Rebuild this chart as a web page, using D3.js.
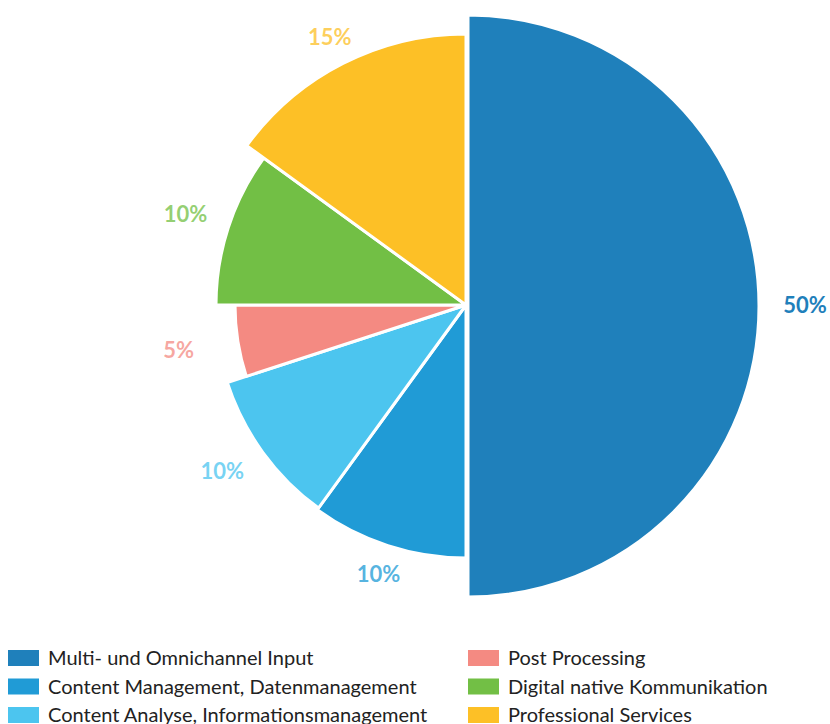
<!DOCTYPE html>
<html>
<head>
<meta charset="utf-8">
<script src="https://cdn.jsdelivr.net/npm/d3@7"></script>
<style>
  body { margin: 0; background: #fff; }
  svg { display: block; }
</style>
</head>
<body>
<div id="chart"></div>
<script>
// data
var categories = ["Multi- und Omnichannel Input", "Content Management, Datenmanagement",
  "Content Analyse, Informationsmanagement", "Post Processing",
  "Digital native Kommunikation", "Professional Services"];
var values = [50, 10, 10, 5, 10, 15];
var labels = ["50%", "10%", "10%", "5%", "10%", "15%"];
var colors = ["#1f80bb", "#209bd6", "#4cc5ef", "#f48a82", "#72bf45", "#fdc026"];

// layout per slice (not data)
var outerR = [291, 253, 251, 231, 250, 271];
var labelR = [339, 283, 295, 291, 295, 300];

var width = 830, height = 724;
var cx = 466, cy = 305;

var svg = d3.select("#chart").append("svg")
    .attr("width", width)
    .attr("height", height);

var pie = d3.pie().sort(null).value(function(d){ return d; });
var arcs = pie(values);

var g = svg.append("g").attr("transform", "translate(" + cx + "," + cy + ")");

g.selectAll("path")
  .data(arcs)
  .enter().append("path")
    .attr("d", function(d, i){
      return d3.arc().innerRadius(0).outerRadius(outerR[i])(d);
    })
    .attr("transform", function(d, i){ return i == 0 ? "translate(2,1)" : null; })
    .attr("fill", function(d, i){ return colors[i]; })
    .attr("stroke", "#fff")
    .attr("stroke-width", 3)
    .attr("stroke-linejoin", "round");

g.selectAll("text.pct")
  .data(arcs)
  .enter().append("text")
    .attr("class", "pct")
    .attr("x", function(d, i){ var a = (d.startAngle + d.endAngle) / 2 + (i == 2 ? 0.03 : 0); return Math.sin(a) * labelR[i]; })
    .attr("y", function(d, i){ var a = (d.startAngle + d.endAngle) / 2 + (i == 2 ? 0.03 : 0); return -Math.cos(a) * labelR[i]; })
    .attr("dy", "0.35em")
    .attr("text-anchor", "middle")
    .attr("font-family", "Lato, 'Open Sans', sans-serif")
    .attr("font-weight", "bold")
    .attr("font-size", "22px")
    .attr("fill", function(d, i){ return colors[i]; })
    .attr("fill-opacity", function(d, i){ return i == 0 ? 1 : 0.75; })
    .text(function(d, i){ return labels[i]; });

// legend
var legend = svg.append("g");
var items = legend.selectAll("g")
  .data(categories)
  .enter().append("g")
    .attr("transform", function(d, i){
      var col = Math.floor(i / 3), row = i % 3;
      return "translate(" + (8 + col * 460) + "," + (650 + row * 28.5) + ")";
    });

items.append("rect")
  .attr("width", 31)
  .attr("height", 16)
  .attr("fill", function(d, i){ return colors[i]; });

items.append("text")
  .attr("x", 40)
  .attr("y", 8)
  .attr("dy", "0.36em")
  .attr("font-family", "Lato, sans-serif")
  .attr("font-size", "20px")
  .attr("fill", "#222")
  .text(function(d){ return d; });
</script>
</body>
</html>
